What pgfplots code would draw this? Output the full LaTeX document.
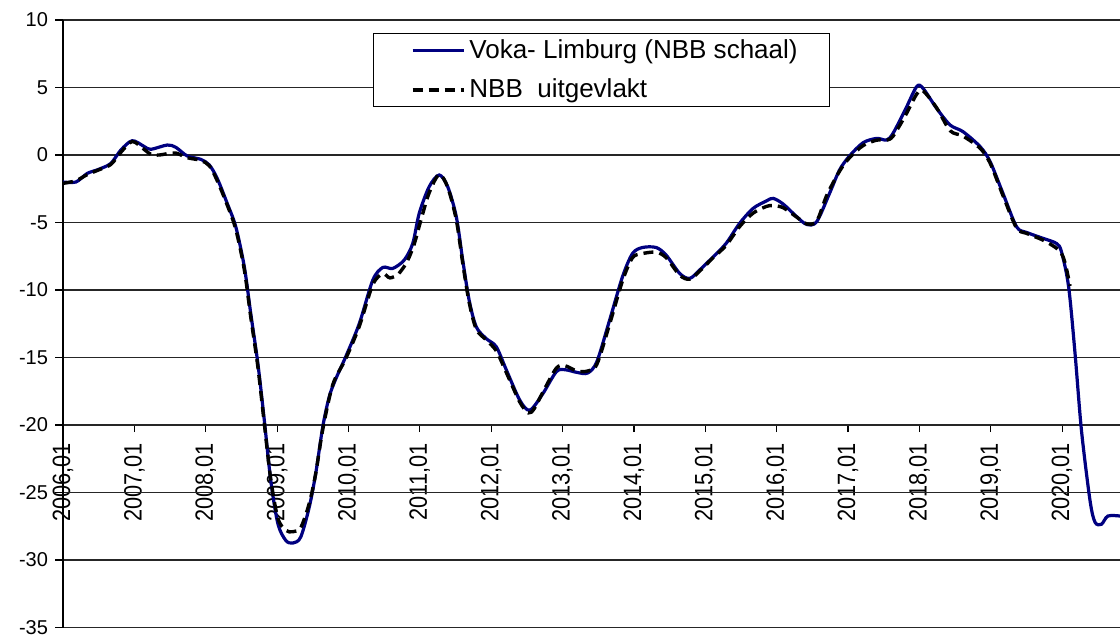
\documentclass[border=0pt]{standalone}
\usepackage{pgfplots}
\pgfplotsset{compat=1.18}
\usepackage{fontspec}
\setmainfont{Liberation Sans}
\definecolor{voka}{RGB}{0,0,128}
\begin{document}
\begin{tikzpicture}
\useasboundingbox (-31.5pt,-3.8pt) rectangle (528pt,313.5pt);
% x axis drawn at y=-20
\begin{axis}[
  scale only axis, width=528pt, height=202.333pt,
  at={(0pt,303.5pt)}, anchor=north west,
  xmin=2006, xmax=2020.81, ymin=-20, ymax=10,
  axis y line=none, axis x line=bottom,
  x axis line style={-, line width=0.6pt},
  xtick={2006,2007,...,2020}, minor x tick num=1,
  tick align=outside, major tick length=3.5pt, minor tick length=3.5pt,
  tick style={black, line width=0.6pt},
  xticklabels={\mbox{2006,01},\mbox{2007,01},\mbox{2008,01},\mbox{2009,01},\mbox{2010,01},\mbox{2011,01},\mbox{2012,01},\mbox{2013,01},\mbox{2014,01},\mbox{2015,01},\mbox{2016,01},\mbox{2017,01},\mbox{2018,01},\mbox{2019,01},\mbox{2020,01}},
  xticklabel style={yshift=-2.5pt, rotate=90, xscale=0.87, anchor=east, font=\fontsize{12.5}{14}\selectfont},
]
\addplot[draw=none] coordinates {(2006,0)};
\end{axis}
\begin{axis}[
  scale only axis, width=528pt, height=303.5pt,
  at={(0pt,0pt)}, anchor=south west,
  xmin=2006, xmax=2020.81, ymin=-35, ymax=10,
  axis x line=none, axis y line=left,
  y axis line style={-, line width=0.6pt},
  xtick=\empty,
  ytick={-35,-30,...,10},
  ymajorgrids, grid style={black!85, line width=0.6pt},
  tick align=outside, major tick length=4pt,
  tick style={black, line width=0.6pt},
  /pgf/number format/assume math mode=true,
  yticklabel style={font=\fontsize{10}{12}\selectfont},
  legend style={at={(rel axis cs:0.2935,0.9786)}, anchor=north west,
    draw=black, fill=white, line width=0.6pt, inner xsep=0pt, inner ysep=0.8pt,
    row sep=5pt, column sep=0pt,
    font=\fontsize{13}{15}\selectfont},
  legend cell align=left,
  legend image code/.code={\path (0pt,0pt); \draw[#1] (18.5pt,0pt) -- (44pt,0pt);},
]
\addplot[voka, line width=1.6pt, smooth, tension=0.5] coordinates {
(2006.00,-2.0) (2006.18,-2.0) (2006.34,-1.36) (2006.50,-1.06) (2006.67,-0.62)
(2006.81,0.37) (2006.97,1.06) (2007.14,0.62) (2007.23,0.42) (2007.46,0.74)
(2007.58,0.57) (2007.74,-0.07) (2007.93,-0.32) (2008.05,-0.74) (2008.16,-1.73)
(2008.30,-3.58) (2008.42,-5.31) (2008.54,-8.28) (2008.63,-11.74) (2008.73,-15.45)
(2008.82,-19.64) (2008.91,-24.09) (2009.01,-27.3) (2009.12,-28.54) (2009.22,-28.74)
(2009.33,-28.3) (2009.45,-26.07) (2009.54,-23.6) (2009.64,-20.1) (2009.73,-17.9)
(2009.82,-16.6) (2009.96,-14.95) (2010.15,-12.5) (2010.34,-9.27) (2010.48,-8.33)
(2010.62,-8.4) (2010.78,-7.78) (2010.90,-6.55) (2010.99,-4.33) (2011.13,-2.35)
(2011.27,-1.48) (2011.39,-2.35) (2011.51,-4.57) (2011.60,-7.78) (2011.69,-10.75)
(2011.79,-12.73) (2011.93,-13.6) (2012.07,-14.2) (2012.21,-15.9) (2012.40,-18.16)
(2012.54,-18.9) (2012.72,-17.7) (2012.91,-16.06) (2013.03,-15.9) (2013.20,-16.1)
(2013.35,-16.15) (2013.48,-15.3) (2013.66,-12.2) (2013.84,-9.0) (2013.98,-7.29)
(2014.12,-6.85) (2014.31,-6.85) (2014.45,-7.41) (2014.64,-8.77) (2014.78,-9.14)
(2014.92,-8.52) (2015.11,-7.54) (2015.29,-6.55) (2015.48,-5.06) (2015.67,-3.95)
(2015.86,-3.39) (2015.95,-3.21) (2016.09,-3.63) (2016.28,-4.57) (2016.42,-5.14)
(2016.56,-4.94) (2016.74,-2.84) (2016.88,-1.11) (2017.02,-0.07) (2017.21,0.91)
(2017.40,1.23) (2017.54,1.11) (2017.63,1.61) (2017.80,3.34) (2017.96,5.06)
(2018.05,4.94) (2018.24,3.46) (2018.43,2.22) (2018.61,1.73) (2018.85,0.62)
(2018.99,-0.49) (2019.17,-2.84) (2019.36,-5.31) (2019.50,-5.73) (2019.73,-6.17)
(2019.92,-6.55) (2019.99,-7.17) (2020.09,-9.76) (2020.18,-14.7) (2020.27,-20.4)
(2020.39,-25.6) (2020.46,-27.2) (2020.55,-27.35) (2020.64,-26.74) (2020.81,-26.74)
};
\addlegendentry{Voka- Limburg (NBB schaal)\hspace*{14pt}}
\addplot[black, line width=1.7pt, dash pattern=on 5pt off 3pt, smooth, tension=0.5] coordinates {
(2006.00,-2.1) (2006.18,-1.9) (2006.34,-1.45) (2006.50,-1.1) (2006.67,-0.7)
(2006.81,0.2) (2006.97,1.0) (2007.14,0.4) (2007.23,0.05) (2007.35,0.0)
(2007.46,0.1) (2007.58,0.15) (2007.74,-0.2) (2007.93,-0.4) (2008.05,-0.8)
(2008.16,-1.9) (2008.30,-3.7) (2008.42,-5.5) (2008.54,-8.5) (2008.63,-12.0)
(2008.73,-15.7) (2008.82,-19.9) (2008.91,-24.0) (2009.01,-26.9) (2009.12,-27.8)
(2009.22,-27.9) (2009.33,-27.6) (2009.45,-25.8) (2009.54,-23.6) (2009.64,-20.3)
(2009.78,-17.0) (2009.96,-15.1) (2010.15,-12.7) (2010.34,-9.6) (2010.48,-8.8)
(2010.58,-9.1) (2010.70,-8.8) (2010.82,-7.9) (2010.92,-6.6) (2011.01,-4.9)
(2011.13,-2.8) (2011.27,-1.45) (2011.39,-2.4) (2011.51,-4.8) (2011.60,-8.0)
(2011.69,-10.9) (2011.79,-12.9) (2011.93,-13.7) (2012.07,-14.5) (2012.21,-16.1)
(2012.40,-18.3) (2012.52,-19.1) (2012.60,-18.8) (2012.72,-17.6) (2012.91,-15.8)
(2013.03,-15.6) (2013.20,-16.0) (2013.35,-16.0) (2013.48,-15.5) (2013.66,-12.5)
(2013.84,-9.3) (2013.98,-7.6) (2014.12,-7.3) (2014.31,-7.2) (2014.45,-7.6)
(2014.64,-8.9) (2014.78,-9.2) (2014.92,-8.6) (2015.11,-7.6) (2015.29,-6.7)
(2015.48,-5.3) (2015.67,-4.3) (2015.86,-3.8) (2015.95,-3.75) (2016.09,-3.9)
(2016.28,-4.6) (2016.42,-5.1) (2016.56,-4.9) (2016.70,-3.0) (2016.88,-1.2)
(2017.02,-0.2) (2017.21,0.7) (2017.40,1.1) (2017.54,1.1) (2017.63,1.4)
(2017.80,2.9) (2017.96,4.5) (2018.05,4.75) (2018.24,3.5) (2018.43,1.8)
(2018.61,1.4) (2018.85,0.5) (2018.99,-0.6) (2019.17,-3.0) (2019.36,-5.4)
(2019.50,-5.8) (2019.73,-6.3) (2019.92,-6.9) (2020.00,-7.4) (2020.05,-8.2)
(2020.11,-9.7)
};
\addlegendentry{NBB\ \ uitgevlakt}
\end{axis}
\end{tikzpicture}
\end{document}
